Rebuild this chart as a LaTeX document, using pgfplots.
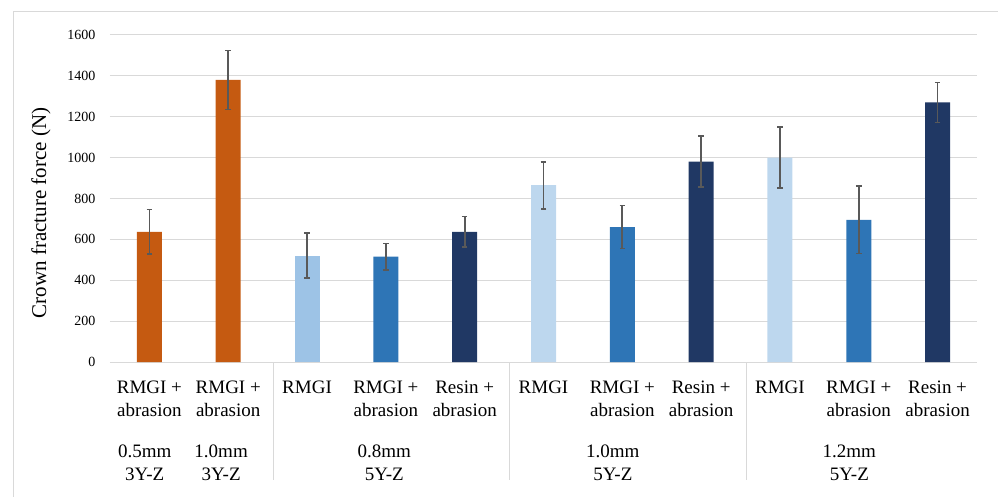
\documentclass[border=0pt]{standalone}
\usepackage{fontspec}
\setmainfont{Liberation Serif}
\usepackage{pgfplots}
\pgfplotsset{compat=1.18}
\definecolor{corange}{HTML}{C55A11}
\definecolor{clb1}{HTML}{9DC3E6}
\definecolor{clb2}{HTML}{BDD7EE}
\definecolor{cmb}{HTML}{2E75B6}
\definecolor{cdb}{HTML}{203864}
\definecolor{cgrid}{HTML}{D9D9D9}
\definecolor{cerr}{HTML}{595959}
\begin{document}
\begin{tikzpicture}[x=1bp,y=1bp]
\path[use as bounding box] (-110bp,-135bp) rectangle (888bp,362bp);
\draw[cgrid, line width=1bp] (-96bp,-135bp) -- (-96bp,350bp) -- (888bp,350bp);
\begin{axis}[
  at={(0,0)}, anchor=south west,
  scale only axis, width=867bp, height=327bp,
  clip=false,
  ymin=0, ymax=1600, ytick={0,200,...,1600},
  xmin=-0.5, xmax=10.5,
  xtick={0,...,10},
  xticklabels={{RMGI +\\abrasion},{RMGI +\\abrasion},{RMGI},{RMGI +\\abrasion},{Resin +\\abrasion},{RMGI},{RMGI +\\abrasion},{Resin +\\abrasion},{RMGI},{RMGI +\\abrasion},{Resin +\\abrasion}},
  xticklabel style={align=center, font=\fontsize{19bp}{23bp}\selectfont, anchor=north, yshift=-15bp, text depth=0pt},
  yticklabel style={font=\fontsize{14bp}{16bp}\selectfont, anchor=east, xshift=-11bp},
  /pgf/number format/assume math mode=true,
  /pgf/number format/1000 sep={},
  major tick length=0pt,
  axis line style={draw=none},
  ymajorgrids, major grid style={cgrid, line width=1bp},
  ybar, bar width=25bp, bar shift=0pt,
  error bars/y dir=both, error bars/y explicit,
  error bars/error bar style={cerr, line width=1.8bp},
  error bars/error mark options={rotate=90, mark size=2.8bp, cerr, line width=1.6bp},
]
\addplot[fill=corange, draw=none] coordinates {(0,637) +- (0,110) (1,1380) +- (0,145)};
\addplot[fill=clb1, draw=none] coordinates {(2,520) +- (0,110)};
\addplot[fill=clb2, draw=none] coordinates {(5,865) +- (0,115) (8,1000) +- (0,150)};
\addplot[fill=cmb, draw=none] coordinates {(3,515) +- (0,65) (6,660) +- (0,105) (9,695) +- (0,165)};
\addplot[fill=cdb, draw=none] coordinates {(4,637) +- (0,75) (7,980) +- (0,125) (10,1270) +- (0,98)};
\draw[cgrid, line width=1bp] (axis cs:1.57,0) -- ([yshift=-118bp]axis cs:1.57,0);
\draw[cgrid, line width=1bp] (axis cs:4.57,0) -- ([yshift=-118bp]axis cs:4.57,0);
\draw[cgrid, line width=1bp] (axis cs:7.57,0) -- ([yshift=-118bp]axis cs:7.57,0);
\node[rotate=90, font=\fontsize{21bp}{25bp}\selectfont] at ([xshift=-69bp]rel axis cs:0,0.456) {Crown fracture force (N)};
\node[align=center, anchor=north, font=\fontsize{19bp}{23bp}\selectfont] at ([yshift=-79bp]axis cs:-0.06,0) {0.5mm\\3Y-Z};
\node[align=center, anchor=north, font=\fontsize{19bp}{23bp}\selectfont] at ([yshift=-79bp]axis cs:0.91,0) {1.0mm\\3Y-Z};
\node[align=center, anchor=north, font=\fontsize{19bp}{23bp}\selectfont] at ([yshift=-79bp]axis cs:2.98,0) {0.8mm\\5Y-Z};
\node[align=center, anchor=north, font=\fontsize{19bp}{23bp}\selectfont] at ([yshift=-79bp]axis cs:5.88,0) {1.0mm\\5Y-Z};
\node[align=center, anchor=north, font=\fontsize{19bp}{23bp}\selectfont] at ([yshift=-79bp]axis cs:8.88,0) {1.2mm\\5Y-Z};
\end{axis}
\end{tikzpicture}
\end{document}
